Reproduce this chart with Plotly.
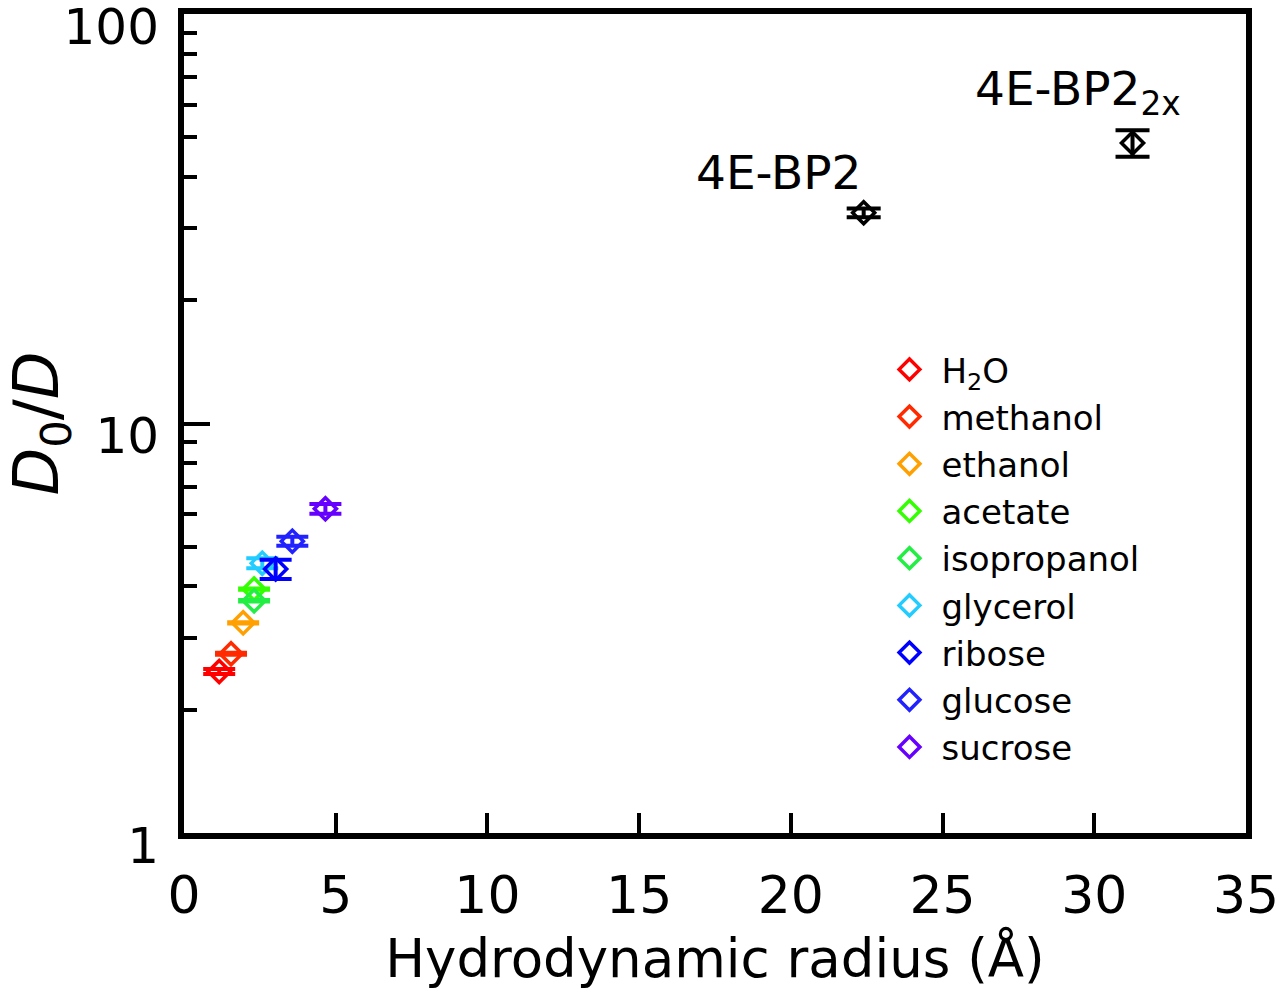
import plotly.graph_objects as go

# ---- data ----
solutes = ["H<sub>2</sub>O", "methanol", "ethanol", "acetate", "isopropanol",
           "glycerol", "ribose", "glucose", "sucrose"]
radius = [1.16, 1.55, 1.95, 2.31, 2.31, 2.58, 3.02, 3.57, 4.66]
d0_over_d = [2.48, 2.74, 3.26, 3.94, 3.69, 4.56, 4.41, 5.16, 6.19]
d0_err = [0.035, 0.015, 0.01, 0.015, 0.015, 0.13, 0.24, 0.13, 0.17]
colors = ["#ff0000", "#ff2a00", "#ffa000", "#33ff00", "#22ee44",
          "#22ccff", "#0000ff", "#2222ff", "#6600ff"]

proteins = ["4E-BP2", "4E-BP2<sub>2x</sub>"]
protein_radius = [22.4, 31.26]
protein_d0_over_d = [32.7, 48.4]
protein_err = [0.8, 3.6]

y_major = [1, 10, 100]
y_minor = [2, 3, 4, 5, 6, 7, 8, 9, 20, 30, 40, 50, 60, 70, 80, 90]

FONT = "DejaVu Sans"

fig = go.Figure()

for name, x, y, e, c in zip(solutes, radius, d0_over_d, d0_err, colors):
    fig.add_trace(go.Scatter(
        x=[x], y=[y], mode="markers", name=name,
        marker=dict(symbol="diamond-open", size=17, color=c, line=dict(width=3.5, color=c)),
        error_y=dict(type="data", array=[e], visible=True, color=c, thickness=4, width=16),
    ))

fig.add_trace(go.Scatter(
    x=protein_radius, y=protein_d0_over_d, mode="markers", showlegend=False,
    marker=dict(symbol="diamond-open", size=17, color="black", line=dict(width=3.5, color="black")),
    error_y=dict(type="data", array=protein_err, visible=True, color="black", thickness=4, width=17),
))

fig.add_annotation(x=19.6, y=1.614, xref="x", yref="y", text=proteins[0],
                   showarrow=False, font=dict(family=FONT, size=47, color="black"))
fig.add_annotation(x=26.0, y=1.81, xref="x", yref="y", text=proteins[1],
                   xanchor="left", showarrow=False,
                   font=dict(family=FONT, size=47, color="black"))

fig.update_xaxes(
    range=[0, 35], dtick=5, tick0=0,
    showline=True, linewidth=6, linecolor="black", mirror=True,
    ticks="inside", ticklen=20, tickwidth=4, tickcolor="black",
    showgrid=False, zeroline=False, automargin=False,
    ticklabelstandoff=12, ticklabeloverflow="allow",
    tickfont=dict(family=FONT, size=52, color="black"),
    title=dict(text="Hydrodynamic radius (Å)", font=dict(family=FONT, size=53, color="black"),
               standoff=17),
)
fig.update_yaxes(
    type="log", range=[0, 2],
    tickmode="array", tickvals=y_major, ticktext=[str(v) for v in y_major],
    showline=True, linewidth=6, linecolor="black", mirror=True,
    ticks="inside", ticklen=26, tickwidth=4, tickcolor="black",
    minor=dict(tickmode="array", tickvals=y_minor,
               ticks="inside", ticklen=13, tickwidth=4, tickcolor="black", showgrid=False),
    showgrid=False, zeroline=False, automargin=False,
    ticklabelstandoff=9, ticklabelshift=12, ticklabeloverflow="allow",
    tickfont=dict(family=FONT, size=50, color="black"),
    title=dict(text="<i>D</i><sub>0</sub>/<i>D</i>", font=dict(family=FONT, size=62, color="black"),
               standoff=33),
)

fig.update_layout(
    width=1278, height=1002,
    margin=dict(l=184, r=32, t=14, b=169),
    plot_bgcolor="white", paper_bgcolor="white",
    font=dict(family=FONT, color="black"),
    legend=dict(x=0.653, y=0.601, xanchor="left", yanchor="top",
                font=dict(family=FONT, size=34, color="black"),
                bgcolor="rgba(0,0,0,0)", itemwidth=54, tracegroupgap=0),
)

fig.write_html("out.html", config={"displayModeBar": False},
               post_script="document.body.style.margin='0';document.body.style.padding='0';")
